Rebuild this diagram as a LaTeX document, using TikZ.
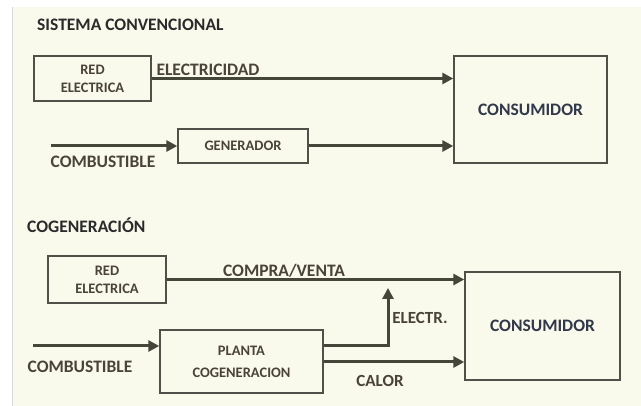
\documentclass[tikz,border=0pt]{standalone}
\usepackage{fontspec}
\setmainfont{Carlito}
\usetikzlibrary{arrows.meta}
\definecolor{bg}{HTML}{F9F9EC}
\definecolor{ln}{HTML}{45453A}
\definecolor{bx}{HTML}{505048}
\definecolor{tx}{HTML}{4A4438}
\definecolor{tt}{HTML}{2A2A2A}
\definecolor{cs}{HTML}{30384A}
\tikzset{
  x=1pt,y=-1pt,
  blk/.style={draw=bx,line width=1.4pt,fill=bg,inner sep=0pt,align=center,text=tx,
    font=\fontsize{14.5}{18}\selectfont\bfseries},
  cons/.style={draw=bx,line width=1.4pt,fill=bg,inner sep=0pt,text=cs,
    font=\fontsize{17.5}{18}\selectfont\bfseries},
  flow/.style={draw=ln,line width=3pt,-{Triangle[length=11pt,width=11pt]}},
  lbl/.style={text=tx,font=\fontsize{17.5}{18}\selectfont\bfseries,inner sep=0pt},
  ttl/.style={text=tt,font=\fontsize{17.5}{18}\selectfont\bfseries,inner sep=0pt,anchor=west}
}
\begin{document}
\begin{tikzpicture}
\useasboundingbox (0,0) rectangle (641,406);
\fill[white] (0,0) rectangle (641,406);
\fill[bg] (12,7) rectangle (641,406);
\draw[black!15,line width=0.6pt] (12,7) -- (12,406);

% Sistema convencional
\node[ttl] (t1) at (37,25) {SISTEMA CONVENCIONAL};
\node[blk,minimum width=117,minimum height=45] (red1) at (92.5,78.5) {RED\\ELECTRICA};
\node[cons,minimum width=153,minimum height=107] (cons1) at (530.5,109.5) {CONSUMIDOR};
\node[blk,minimum width=130,minimum height=34] (gen) at (243,146) {GENERADOR};
\coordinate (c1) at (51,146);
\draw[flow] (red1.east) -- (red1.east -| cons1.west);
\draw[flow] (c1) -- (gen.west);
\draw[flow] (gen.east) -- (gen.east -| cons1.west);
\node[lbl] (l1) at (208,70) {ELECTRICIDAD};
\node[lbl] (l2) at (103,162) {COMBUSTIBLE};

% Cogeneracion
\node[ttl] (t2) at (27,225) {COGENERACIÓN};
\node[blk,minimum width=118,minimum height=47] (red2) at (107,279.5) {RED\\ELECTRICA};
\node[cons,minimum width=155,minimum height=108] (cons2) at (542.5,326) {CONSUMIDOR};
\node[blk,minimum width=163,minimum height=63,font=\fontsize{14.5}{22}\selectfont\bfseries] (pl) at (241.5,361.5) {PLANTA\\COGENERACION};
\coordinate (c2) at (33,346);
\coordinate (e2) at (388,346);
\coordinate (e3) at (388,288);
\draw[flow] (red2.east) -- (red2.east -| cons2.west);
\draw[flow] (c2) -- (c2 -| pl.west);
\draw[flow] (pl.east |- e2) -- (e2) -- (e3);
\draw[flow] (pl.east |- 0,362) -- (cons2.west |- 0,362);
\node[lbl] (l3) at (284,271) {COMPRA/VENTA};
\node[lbl] (l4) at (80,367) {COMBUSTIBLE};
\node[lbl,font=\fontsize{17}{18}\selectfont\bfseries] (l5) at (420,318) {ELECTR.};
\node[lbl,font=\fontsize{17}{18}\selectfont\bfseries] (l6) at (380,381) {CALOR};
\end{tikzpicture}
\end{document}
